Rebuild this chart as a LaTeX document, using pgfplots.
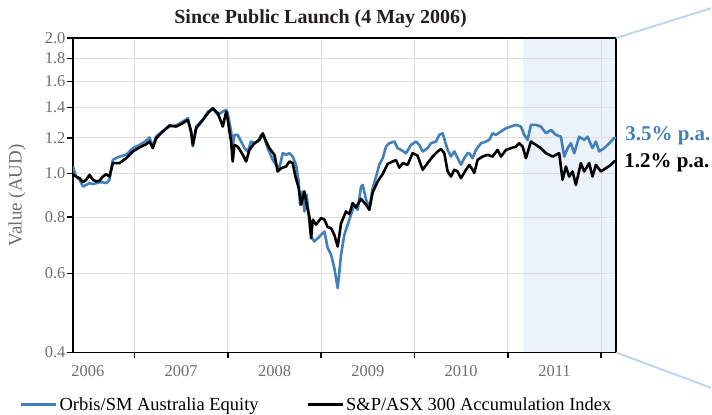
\documentclass[border=0pt]{standalone}
\usepackage{fontspec}
\setmainfont{Liberation Serif}
\usepackage{pgfplots}
\pgfplotsset{compat=1.18}
\definecolor{orbis}{RGB}{66,128,185}
\definecolor{shadec}{RGB}{235,242,250}
\definecolor{projc}{RGB}{189,215,238}
\definecolor{gridc}{RGB}{222,222,222}
\definecolor{labgray}{RGB}{110,110,110}
\definecolor{titlec}{RGB}{35,31,32}
\begin{document}
\begin{tikzpicture}
\begin{axis}[
  set layers,
  scale only axis, width=544pt, height=315pt,
  at={(0pt,0pt)}, anchor=south west,
  ymode=log, ymin=0.4, ymax=2.0, xmin=2006.34, xmax=2012.16,
  ytick={0.4,0.6,0.8,1.0,1.2,1.4,1.6,1.8,2.0},
  yticklabels={0.4,0.6,0.8,1.0,1.2,1.4,1.6,1.8,2.0},
  xtick={2007,2008,2009,2010,2011,2012},
  xticklabels={},
  extra x ticks={2006.5,2007.5,2008.5,2009.5,2010.5,2011.5},
  extra x tick labels={2006,2007,2008,2009,2010,2011},
  extra x tick style={grid=none, major tick length=0pt},
  xmajorgrids, ymajorgrids,
  grid style={gridc, line width=1pt},
  axis line style={line width=1.5pt, black},
  xtick pos=bottom, ytick pos=left,
  tick align=outside,
  major tick length=6pt,
  tick style={black, line width=1.5pt},
  tick label style={font=\fontsize{16.5}{16.5}\selectfont, text=labgray},
  xticklabel style={yshift=-10pt},
  yticklabel style={xshift=2pt},
  ylabel={Value (AUD)},
  ylabel style={font=\fontsize{19}{19}\selectfont, text=labgray, at={(axis description cs:-0.103,0.5)}, anchor=center},
  legend style={at={(axis description cs:-0.0974,-0.165)}, anchor=west, draw=none, fill=none,
    font=\fontsize{18.5}{18.5}\selectfont, legend columns=2, inner sep=0pt,
    /tikz/every even column/.append style={column sep=46pt}},
  legend image code/.code={\draw[#1, line width=2.5pt] (0pt,0pt) -- (35pt,0pt);},
]
\addplot[fill=shadec, draw=none, on layer=axis background, forget plot] coordinates {
(2011.16,0.4) (2011.16,2.0) (2012.16,2.0) (2012.16,0.4)} -- cycle;
\addplot[orbis, line width=2.6pt, line join=round] coordinates {
(2006.340,1.036) (2006.375,0.984) (2006.411,0.968) (2006.447,0.935) (2006.483,0.943)
(2006.518,0.951) (2006.554,0.947) (2006.590,0.951) (2006.625,0.956) (2006.661,0.956)
(2006.697,0.951) (2006.732,0.968) (2006.768,1.072) (2006.839,1.090) (2006.911,1.100)
(2006.982,1.138) (2007.054,1.157) (2007.125,1.181) (2007.161,1.202) (2007.196,1.148)
(2007.232,1.208) (2007.304,1.243) (2007.375,1.271) (2007.447,1.278) (2007.518,1.304)
(2007.572,1.326) (2007.607,1.228) (2007.625,1.148) (2007.661,1.271) (2007.732,1.315)
(2007.786,1.372) (2007.839,1.391) (2007.893,1.349) (2007.946,1.372) (2007.982,1.384)
(2007.999,1.361) (2008.035,1.239) (2008.052,1.147) (2008.071,1.218) (2008.106,1.218)
(2008.142,1.177) (2008.178,1.138) (2008.213,1.119) (2008.249,1.177) (2008.285,1.167)
(2008.320,1.177) (2008.357,1.218) (2008.392,1.198) (2008.427,1.138) (2008.481,1.072)
(2008.517,1.045) (2008.552,1.027) (2008.588,1.109) (2008.624,1.100) (2008.660,1.109)
(2008.695,1.090) (2008.731,1.045) (2008.759,0.960) (2008.774,0.852) (2008.802,0.912)
(2008.820,0.823) (2008.845,0.897) (2008.874,0.776) (2008.892,0.724) (2008.927,0.706)
(2008.981,0.724) (2009.034,0.743) (2009.070,0.683) (2009.106,0.660) (2009.141,0.616)
(2009.177,0.556) (2009.213,0.660) (2009.248,0.731) (2009.302,0.789) (2009.355,0.852)
(2009.391,0.830) (2009.427,0.935) (2009.445,0.943) (2009.481,0.874) (2009.516,0.838)
(2009.552,0.928) (2009.588,0.984) (2009.623,1.045) (2009.659,1.081) (2009.695,1.147)
(2009.730,1.167) (2009.784,1.177) (2009.819,1.138) (2009.855,1.128) (2009.909,1.109)
(2009.962,1.157) (2010.016,1.177) (2010.051,1.157) (2010.087,1.119) (2010.140,1.138)
(2010.176,1.167) (2010.230,1.177) (2010.266,1.218) (2010.301,1.228) (2010.355,1.128)
(2010.390,1.090) (2010.426,1.119) (2010.498,1.045) (2010.533,1.081) (2010.569,1.109)
(2010.587,1.109) (2010.622,1.081) (2010.658,1.128) (2010.712,1.167) (2010.765,1.177)
(2010.801,1.187) (2010.836,1.228) (2010.872,1.218) (2010.926,1.239) (2010.980,1.260)
(2011.033,1.271) (2011.087,1.282) (2011.140,1.271) (2011.176,1.218) (2011.212,1.187)
(2011.247,1.282) (2011.301,1.282) (2011.354,1.271) (2011.408,1.228) (2011.461,1.249)
(2011.515,1.218) (2011.568,1.207) (2011.604,1.090) (2011.640,1.138) (2011.675,1.167)
(2011.711,1.109) (2011.764,1.207) (2011.818,1.187) (2011.853,1.207) (2011.907,1.138)
(2011.943,1.177) (2011.979,1.119) (2012.032,1.138) (2012.086,1.167) (2012.139,1.198)
(2012.160,1.200)
};
\addlegendentry{Orbis/SM Australia Equity}
\addplot[black, line width=2.6pt, line join=round] coordinates {
(2006.340,0.993) (2006.375,0.984) (2006.411,0.976) (2006.447,0.956) (2006.483,0.968)
(2006.518,0.993) (2006.554,0.968) (2006.590,0.960) (2006.625,0.963) (2006.661,0.984)
(2006.697,0.996) (2006.732,0.984) (2006.768,1.054) (2006.839,1.054) (2006.911,1.081)
(2006.982,1.119) (2007.054,1.142) (2007.125,1.161) (2007.161,1.177) (2007.196,1.138)
(2007.232,1.197) (2007.304,1.239) (2007.375,1.278) (2007.447,1.271) (2007.518,1.293)
(2007.572,1.315) (2007.607,1.239) (2007.625,1.157) (2007.661,1.260) (2007.732,1.315)
(2007.786,1.360) (2007.839,1.396) (2007.893,1.360) (2007.946,1.271) (2007.982,1.372)
(2007.999,1.315) (2008.035,1.177) (2008.052,1.063) (2008.071,1.157) (2008.106,1.147)
(2008.160,1.100) (2008.196,1.063) (2008.231,1.128) (2008.285,1.167) (2008.338,1.187)
(2008.374,1.228) (2008.410,1.177) (2008.445,1.138) (2008.499,1.100) (2008.534,1.010)
(2008.570,1.027) (2008.624,1.036) (2008.660,1.063) (2008.695,1.054) (2008.724,0.984)
(2008.759,0.928) (2008.785,0.852) (2008.820,0.912) (2008.845,0.852) (2008.874,0.800)
(2008.892,0.718) (2008.910,0.789) (2008.945,0.770) (2008.999,0.796) (2009.034,0.790)
(2009.070,0.760) (2009.106,0.756) (2009.141,0.730) (2009.177,0.688) (2009.213,0.775)
(2009.266,0.823) (2009.302,0.812) (2009.337,0.859) (2009.373,0.840) (2009.427,0.878)
(2009.481,0.852) (2009.516,0.830) (2009.552,0.908) (2009.606,0.960) (2009.659,0.997)
(2009.713,1.050) (2009.766,1.063) (2009.802,1.070) (2009.837,1.030) (2009.873,1.054)
(2009.926,1.045) (2009.979,1.109) (2010.033,1.095) (2010.087,1.019) (2010.140,1.054)
(2010.194,1.090) (2010.248,1.119) (2010.284,1.133) (2010.319,1.109) (2010.355,1.010)
(2010.390,0.984) (2010.426,1.019) (2010.462,1.010) (2010.498,0.976) (2010.551,1.019)
(2010.587,1.045) (2010.622,1.019) (2010.640,1.002) (2010.676,1.072) (2010.729,1.090)
(2010.783,1.100) (2010.836,1.090) (2010.890,1.128) (2010.926,1.090) (2010.980,1.128)
(2011.033,1.138) (2011.087,1.147) (2011.122,1.167) (2011.158,1.147) (2011.194,1.081)
(2011.247,1.177) (2011.301,1.157) (2011.354,1.138) (2011.408,1.109) (2011.479,1.090)
(2011.550,1.109) (2011.586,0.968) (2011.622,1.036) (2011.657,0.984) (2011.693,1.010)
(2011.729,0.943) (2011.782,1.054) (2011.818,1.010) (2011.871,1.054) (2011.907,0.984)
(2011.943,1.045) (2011.997,1.010) (2012.050,1.027) (2012.104,1.045) (2012.139,1.063)
(2012.160,1.065)
};
\addlegendentry{S\&P/ASX 300 Accumulation Index}
\end{axis}
\foreach \yy in {0,79.36,135.66,179.34,215.02,245.19,271.33,294.38,315}
  \draw[black, line width=1.5pt] (-6pt,\yy pt) -- (0pt,\yy pt);
\draw[projc, line width=2pt] (544pt,315pt) -- (639pt,344.7pt);
\draw[projc, line width=2pt] (544pt,0pt) -- (639pt,-35.3pt);
\node[anchor=base, font=\bfseries\fontsize{20}{20}\selectfont, text=titlec, inner sep=0pt] at (248pt,329pt) {Since Public Launch (4 May 2006)};
\node[anchor=base west, font=\bfseries\fontsize{21}{21}\selectfont, text=orbis, inner sep=0pt] at (553pt,212pt) {3.5\% p.a.};
\node[anchor=base west, font=\bfseries\fontsize{21}{21}\selectfont, text=black, inner sep=0pt] at (552pt,185pt) {1.2\% p.a.};
\useasboundingbox (-73pt,-62pt) rectangle (639pt,353pt);
\end{tikzpicture}
\end{document}
